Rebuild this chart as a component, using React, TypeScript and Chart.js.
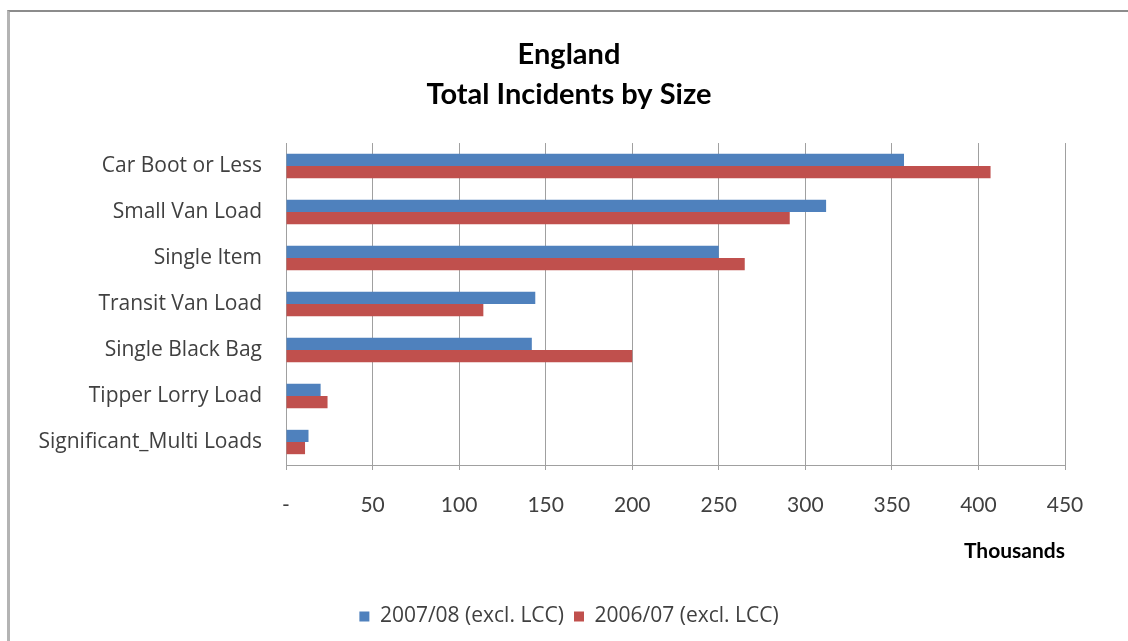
import React, { useEffect, useRef } from 'react';
import { Chart, registerables } from 'chart.js';

Chart.register(...registerables);

const categories = [
  'Car Boot or Less',
  'Small Van Load',
  'Single Item',
  'Transit Van Load',
  'Single Black Bag',
  'Tipper Lorry Load',
  'Significant_Multi Loads',
];
const series2007 = [357, 312, 250, 144, 142, 20, 13];
const series2006 = [407, 291, 265, 114, 200, 24, 11];
const seriesLabels = ['2007/08 (excl. LCC)', '2006/07 (excl. LCC)'];
const seriesColors = ['#4F81BD', '#C0504D'];
const titleLines = ['England', 'Total Incidents by Size'];
const xAxisTitle = 'Thousands';
const xMin = 0;
const xMax = 450;
const xStep = 50;

const FONT = 'Lato, "Open Sans", "DejaVu Sans", sans-serif';
const WIDE = '"Open Sans", Lato, "DejaVu Sans", sans-serif';
const W = 1118;
const H = 629;

export default function App() {
  const ref = useRef<HTMLCanvasElement | null>(null);

  useEffect(() => {
    document.body.style.overflow = 'hidden';
    let chart: Chart | null = null;
    let cancelled = false;
    const make = () => {
      if (cancelled || !ref.current) return;
      chart = new Chart(ref.current, {
        type: 'bar',
        data: {
          labels: categories,
          datasets: [
            {
              label: seriesLabels[0],
              data: series2007,
              backgroundColor: seriesColors[0],
              borderWidth: 0,
            },
            {
              label: seriesLabels[1],
              data: series2006,
              backgroundColor: seriesColors[1],
              borderWidth: 0,
            },
          ],
        },
        options: {
          indexAxis: 'y',
          responsive: false,
          animation: false,
          devicePixelRatio: 1,
          datasets: {
            bar: { categoryPercentage: 0.53, barPercentage: 1.0 },
          },
          layout: { padding: { left: 0, right: 0, top: 0, bottom: 4 } },
          plugins: {
            title: {
              display: true,
              text: titleLines,
              color: '#000000',
              font: { family: FONT, size: 29, weight: 'bold', lineHeight: 1.38 },
              padding: { top: 23, bottom: 28 },
            },
            legend: {
              position: 'bottom',
              labels: {
                boxWidth: 10,
                boxHeight: 10,
                color: '#404040',
                font: { family: WIDE, size: 21 },
                padding: 10,
              },
            },
            tooltip: { enabled: false },
          },
          scales: {
            x: {
              min: xMin,
              max: xMax,
              grid: {
                color: '#a0a0a0',
                lineWidth: 1,
                tickLength: 5,
              },
              border: { color: '#a0a0a0' },
              ticks: {
                stepSize: xStep,
                padding: 23,
                color: '#404040',
                font: { family: FONT, size: 21 },
                callback: (v: any) => (Number(v) === 0 ? '-' : String(v)),
              },
              title: {
                display: true,
                text: xAxisTitle,
                align: 'end',
                color: '#000000',
                font: { family: FONT, size: 21, weight: 'bold' },
                padding: { top: 20, bottom: 32 },
              },
              afterFit: (scale: any) => {
                scale.height = 131;
                scale.paddingRight = 63;
              },
            },
            y: {
              grid: { display: false, drawTicks: false },
              border: { display: true, color: '#a0a0a0' },
              ticks: {
                padding: 24,
                color: '#404040',
                font: { family: WIDE, size: 21 },
              },
              afterFit: (scale: any) => {
                scale.width = 276;
              },
            },
          },
        },
      });
    };
    const fontsReady = (document as any).fonts
      ? Promise.all([
          (document as any).fonts.load('21px Lato'),
          (document as any).fonts.load('bold 29px Lato'),
          (document as any).fonts.load('21px "Open Sans"'),
        ]).catch(() => null)
      : Promise.resolve(null);
    fontsReady.then(make);
    return () => {
      cancelled = true;
      if (chart) chart.destroy();
    };
  }, []);

  return (
    <div
      style={{
        position: 'absolute',
        left: 7,
        top: 10,
        width: W,
        height: H,
        borderLeft: '3px solid #b4b4b4',
        borderTop: '2px solid #8c8c8c',
        background: '#ffffff',
      }}
    >
      <canvas ref={ref} width={W} height={H} style={{ display: 'block', width: W, height: H }} />
    </div>
  );
}
